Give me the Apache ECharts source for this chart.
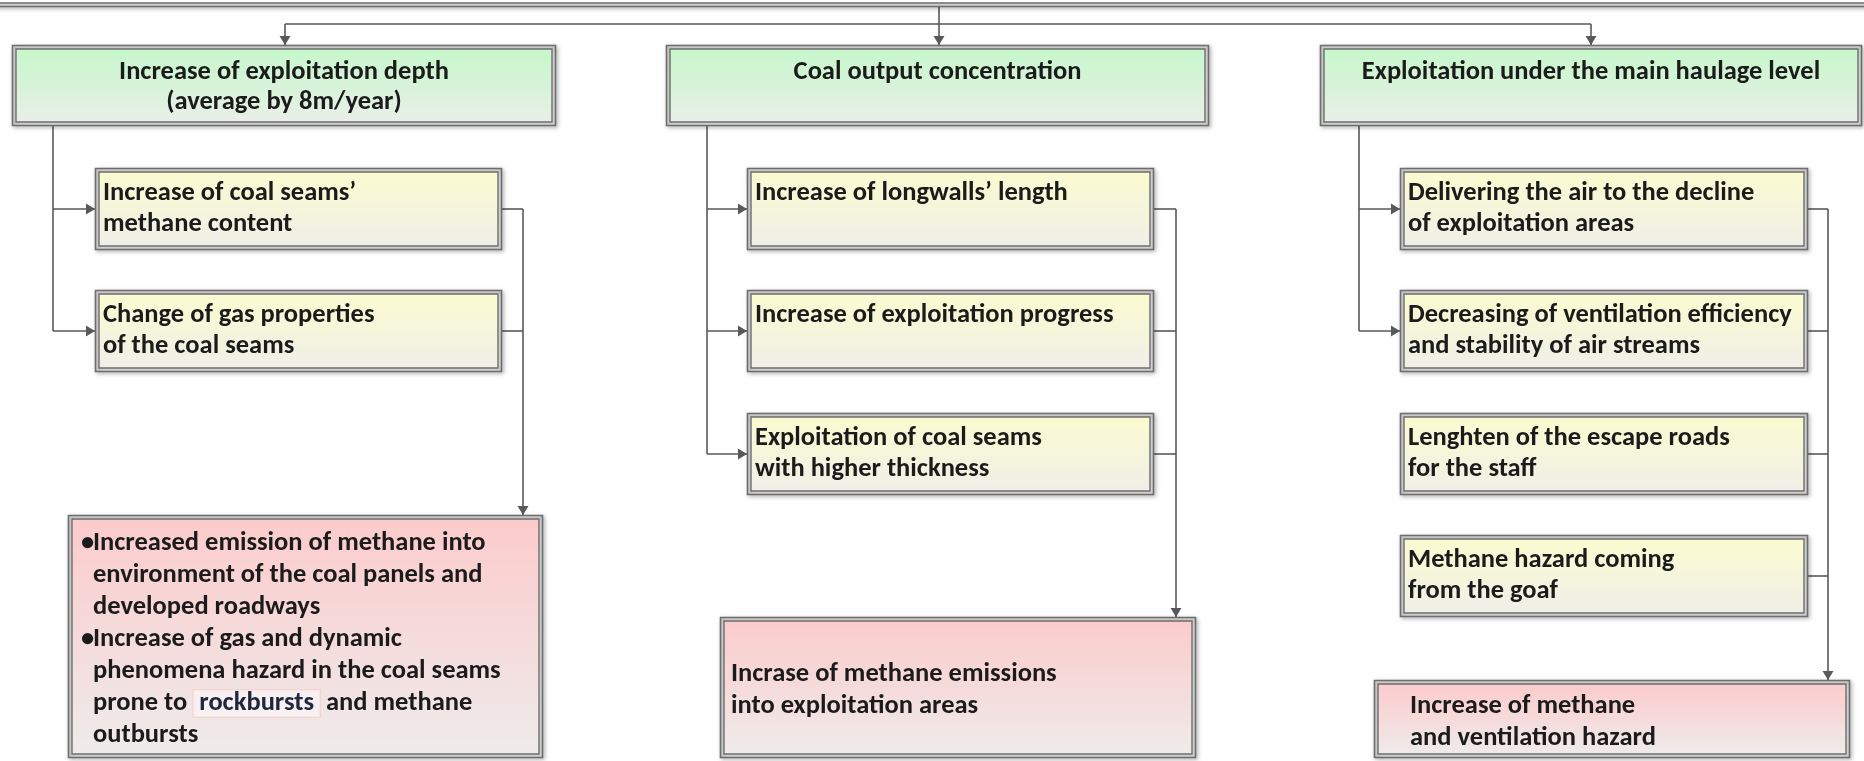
<!DOCTYPE html>
<html><head><meta charset="utf-8">
<script src="https://cdn.jsdelivr.net/npm/echarts@6/dist/echarts.min.js"></script>
<style>html,body{margin:0;padding:0;background:#fff}#c{width:1864px;height:761px}</style>
</head><body><div id="c"></div>
<script>
// ---------- content ----------
const headerLabels = [
  "Increase of exploitation depth\n(average by 8m/year)",
  "Coal output concentration",
  "Exploitation under the main haulage level"
];
const depthFactors = [
  "Increase of coal seams\u2019\nmethane content",
  "Change of gas properties\nof the coal seams"
];
const concentrationFactors = [
  "Increase of longwalls\u2019 length",
  "Increase of exploitation progress",
  "Exploitation of coal seams\nwith higher thickness"
];
const haulageFactors = [
  "Delivering the air to the decline\nof exploitation areas",
  "Decreasing of ventilation efficiency\nand stability of air streams",
  "Lenghten of the escape roads\nfor the staff",
  "Methane hazard coming\nfrom the goaf"
];
const depthEffectBullets = [
  ["Increased emission of methane into", "environment of the coal panels and", "developed roadways"],
  ["Increase of gas and dynamic", "phenomena hazard in the coal seams", "prone to {h|rockbursts} and methane", "outbursts"]
];
const concentrationEffect = "Incrase of methane emissions\ninto exploitation areas";
const haulageEffect = "Increase of methane\nand ventilation hazard";
const leftLinkedRows = [[0, 1], [0, 1, 2], [0, 1]];

// ---------- layout (diagram units) ----------
const W = 1864, H = 761;
const headerX = [[12, 556], [666, 1209], [1320, 1862]];
const headerY = [45, 126];
const factorX = [[95, 502], [747, 1154], [1400, 1808]];
const rowY = [[168, 250], [290, 372], [413, 495], [535, 617]];
const leftRailX = [53, 707, 1359];
const rightRailX = [523, 1176, 1828];
const effectRect = [[68, 515, 543, 758], [720, 617, 1196, 758], [1374, 680, 1850, 758]];
const effectPad = [25, 11, 36];
const busY = 24, busTopY = 7;

const FONT = 'Carlito, Lato, "Open Sans", sans-serif';
const FS = 26.5;
const TXT = '#1b1b1b';
const LINE = '#595959';

const fills = {
  green: ['#c6f7cb', '#e9efe7'],
  yellow: ['#fbfbd0', '#efefe8'],
  red: ['#fccbcb', '#efebeb'],
  white: ['#ffffff', '#ffffff']
};

// ---------- build boxes ----------
const boxData = [], boxMeta = [];
function addBox(r, kind, text, align, pad) {
  boxData.push(r);
  boxMeta.push({ kind, text, align, pad });
}
addBox([-20, -40, W + 20, busTopY], 'white', null, null);
headerLabels.forEach((t, c) => addBox([headerX[c][0], headerY[0], headerX[c][1], headerY[1]], 'green', t, 'header'));
[depthFactors, concentrationFactors, haulageFactors].forEach((list, c) => {
  list.forEach((t, r) => addBox([factorX[c][0], rowY[r][0], factorX[c][1], rowY[r][1]], 'yellow', t, 'factor'));
});
addBox(effectRect[0], 'red', depthEffectBullets, 'bullets', effectPad[0]);
addBox(effectRect[1], 'red', concentrationEffect, 'effect', effectPad[1]);
addBox(effectRect[2], 'red', haulageEffect, 'effect', effectPad[2]);

// ---------- build connectors ----------
const segs = [];
const rowMid = r => (rowY[r][0] + rowY[r][1]) / 2;
const colCenter = c => [285, 939, 1591][c];
segs.push([colCenter(0), busY, colCenter(2), busY, 0]);
segs.push([colCenter(1), busTopY, colCenter(1), headerY[0], 1]);
segs.push([colCenter(0), busY, colCenter(0), headerY[0], 1]);
segs.push([colCenter(2), busY, colCenter(2), headerY[0], 1]);
const factorLists = [depthFactors, concentrationFactors, haulageFactors];
for (let c = 0; c < 3; c++) {
  const rows = leftLinkedRows[c];
  segs.push([leftRailX[c], headerY[1], leftRailX[c], rowMid(rows[rows.length - 1]), 0]);
  rows.forEach(r => segs.push([leftRailX[c], rowMid(r), factorX[c][0], rowMid(r), 1]));
  factorLists[c].forEach((t, r) => segs.push([factorX[c][1], rowMid(r), rightRailX[c], rowMid(r), 0]));
  segs.push([rightRailX[c], rowMid(0), rightRailX[c], effectRect[c][1], 1]);
}

// ---------- render ----------
function grad(kind) {
  const f = fills[kind];
  return new echarts.graphic.LinearGradient(0, 0, 0, 1, [{ offset: 0, color: f[0] }, { offset: 1, color: f[1] }]);
}
function textStyle(extra) {
  return Object.assign({ fill: TXT, fontSize: FS, fontWeight: 'bold', fontFamily: FONT }, extra);
}
function renderBox(params, api) {
  const m = boxMeta[params.dataIndex];
  const p0 = api.coord([api.value(0), api.value(1)]);
  const p1 = api.coord([api.value(2), api.value(3)]);
  const x = p0[0], y = p0[1], w = p1[0] - p0[0], h = p1[1] - p0[1];
  const ch = [];
  ch.push({ type: 'rect', shape: { x: x + 0.5, y: y + 0.5, width: w - 1, height: h - 1 },
    style: { fill: '#d6d6d6', stroke: '#6e6e6e', lineWidth: 1.6, shadowBlur: 4, shadowOffsetX: 1.5, shadowOffsetY: 1.5, shadowColor: 'rgba(0,0,0,0.25)' } });
  ch.push({ type: 'rect', shape: { x: x + 4, y: y + 4, width: w - 8, height: h - 8 },
    style: { fill: grad(m.kind), stroke: '#6e6e6e', lineWidth: 1.4 } });
  if (m.align === 'header') {
    ch.push({ type: 'text', style: textStyle({ text: m.text, x: x + w / 2, y: y + 12, align: 'center', verticalAlign: 'top', lineHeight: 30 }) });
  } else if (m.align === 'factor') {
    ch.push({ type: 'text', style: textStyle({ text: m.text, x: x + 8, y: y + 10, align: 'left', verticalAlign: 'top', lineHeight: 31 }) });
  } else if (m.align === 'effect') {
    ch.push({ type: 'text', style: textStyle({ text: m.text, x: x + m.pad, y: y + h / 2 + 3, align: 'left', verticalAlign: 'middle', lineHeight: 32 }) });
  } else if (m.align === 'bullets') {
    const lines = [];
    m.text.forEach(item => item.forEach((l, k) => lines.push({ l, bullet: k === 0 })));
    const lh = 32, top = y + h / 2 - lines.length * lh / 2 + 3;
    lines.forEach((o, i) => {
      const cy = top + lh * i + lh / 2;
      if (o.bullet) ch.push({ type: 'text', style: textStyle({ text: '\u2022', x: x + 13, y: cy, align: 'left', verticalAlign: 'middle' }) });
      ch.push({ type: 'text', style: textStyle({ text: o.l, x: x + m.pad, y: cy, align: 'left', verticalAlign: 'middle',
        rich: { h: { fill: '#1f2640', fontSize: FS, fontWeight: 'bold', fontFamily: FONT, backgroundColor: 'rgba(255,255,255,0.45)', borderColor: 'rgba(245,190,190,0.45)', borderWidth: 1, padding: [0, 6, 0, 6] } } }) });
    });
  }
  return { type: 'group', children: ch };
}
function renderSeg(params, api) {
  const p0 = api.coord([api.value(0), api.value(1)]);
  const p1 = api.coord([api.value(2), api.value(3)]);
  const ch = [{ type: 'line', shape: { x1: p0[0], y1: p0[1], x2: p1[0], y2: p1[1] }, style: { stroke: LINE, lineWidth: 1.6 } }];
  if (api.value(4)) {
    const dx = p1[0] - p0[0], dy = p1[1] - p0[1], len = Math.hypot(dx, dy), ux = dx / len, uy = dy / len;
    const L = 9, Wd = 5.5, bx = p1[0] - ux * L, by = p1[1] - uy * L;
    ch.push({ type: 'polygon', shape: { points: [[p1[0], p1[1]], [bx - uy * Wd, by + ux * Wd], [bx + uy * Wd, by - ux * Wd]] }, style: { fill: LINE } });
  }
  return { type: 'group', children: ch };
}

const chart = echarts.init(document.getElementById('c'), null, { renderer: 'canvas' });
chart.setOption({
  animation: false,
  backgroundColor: '#ffffff',
  grid: { left: 0, right: 0, top: 0, bottom: 0 },
  xAxis: { type: 'value', min: 0, max: W, show: false },
  yAxis: { type: 'value', min: 0, max: H, inverse: true, show: false },
  series: [
    { type: 'custom', coordinateSystem: 'cartesian2d', clip: false, silent: true, renderItem: renderSeg, data: segs, encode: { x: [0, 2], y: [1, 3] }, z: 1 },
    { type: 'custom', coordinateSystem: 'cartesian2d', clip: false, silent: true, renderItem: renderBox, data: boxData, encode: { x: [0, 2], y: [1, 3] }, z: 2 }
  ]
});
</script>
</body></html>
